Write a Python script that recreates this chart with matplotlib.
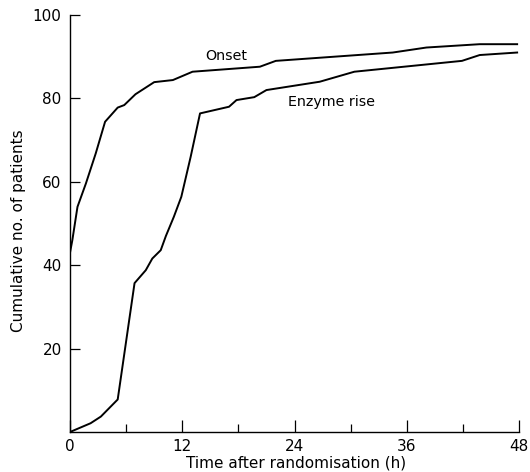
import matplotlib
matplotlib.use("Agg")
import matplotlib.pyplot as plt
from matplotlib.ticker import MultipleLocator

# Data
onset_t = [0, 0.25, 0.8, 1.7, 2.75, 3.75, 5.1, 5.8, 7.0, 9.0, 11.0, 13.1, 20.3, 22.0, 34.5, 38.1, 43.8, 47.8]
onset_n = [43, 46, 54, 59.6, 66.8, 74.4, 77.8, 78.4, 81, 83.9, 84.4, 86.4, 87.6, 89, 91, 92.2, 93, 93]

enzyme_t = [0, 2.2, 3.3, 5.1, 6.9, 8.1, 8.8, 9.7, 10.25, 11.1, 11.9, 12.9, 13.9, 17.0, 17.8, 19.7, 21.0, 26.7, 30.4, 41.9, 43.8, 47.8]
enzyme_n = [0, 2.1, 3.7, 7.8, 35.7, 38.8, 41.6, 43.6, 47, 51.6, 56.4, 66, 76.4, 78, 79.6, 80.3, 82, 84, 86.4, 89, 90.4, 91]

x_ticks = [0, 12, 24, 36, 48]
y_ticks = [20, 40, 60, 80, 100]

fig = plt.figure(figsize=(5.30, 4.72), dpi=100)
ax = fig.add_axes([70/530, 1 - 432/472, (519 - 70)/530, (432 - 15)/472])

ax.plot(onset_t, onset_n, color="black", lw=1.4, solid_joinstyle="round")
ax.plot(enzyme_t, enzyme_n, color="black", lw=1.4, solid_joinstyle="round")

ax.text(16.7, 90.2, "Onset", fontsize=10.3, ha="center", va="center")
ax.text(28.0, 79.2, "Enzyme rise", fontsize=10.3, ha="center", va="center")

ax.set_xlim(0, 48)
ax.set_ylim(0, 100)
ax.set_xticks(x_ticks)
ax.set_yticks(y_ticks)
ax.xaxis.set_minor_locator(MultipleLocator(6))
ax.tick_params(axis="x", which="major", direction="in", length=8.5, width=0.9, labelsize=11, pad=5)
ax.tick_params(axis="x", which="minor", direction="in", length=6, width=0.9)
ax.tick_params(axis="y", which="major", direction="in", length=7, width=0.9, labelsize=11, pad=6)

for s in ["top", "right"]:
    ax.spines[s].set_visible(False)
for s in ["left", "bottom"]:
    ax.spines[s].set_linewidth(1.0)

ax.set_xlabel("Time after randomisation (h)", fontsize=11)
ax.set_ylabel("Cumulative no. of patients", fontsize=11)
ax.xaxis.set_label_coords((296 - 70) / 449, -(463 - 432) / 417)
ax.yaxis.set_label_coords(-(70 - 19) / 449, (432 - 231) / 417)
ax.xaxis.label.set_va("center")
ax.yaxis.label.set_va("center")

fig.savefig("out.png", dpi=100)
